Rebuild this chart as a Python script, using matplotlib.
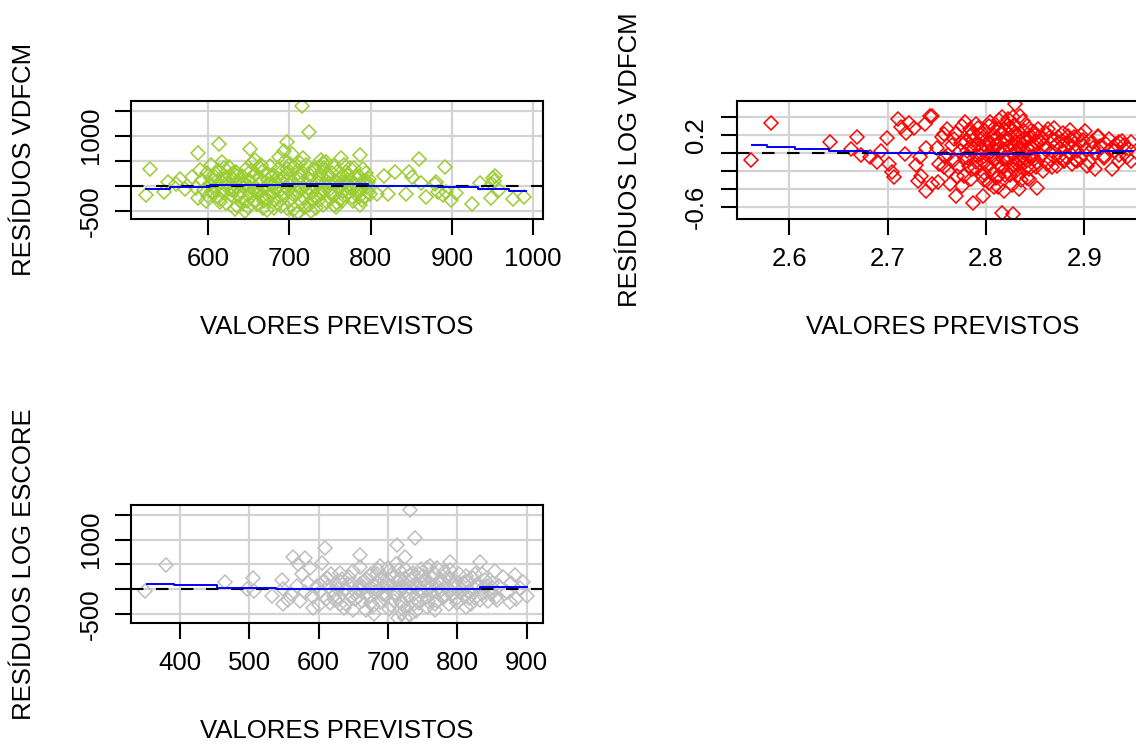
import matplotlib
matplotlib.use("Agg")
import matplotlib.pyplot as plt

plt.rcParams['font.family'] = ['Liberation Sans', 'DejaVu Sans']

# --- VDFCM: valores previstos x resíduos ---
vdfcm_x = [528.8, 524, 550.6, 565.6, 588, 613.9, 715, 724.3, 696.5, 651.5, 580, 588,
           786.5, 764, 816, 829.4, 808, 821, 846.6, 850.7, 860, 843.8, 868, 880.6,
           890.8, 882.6, 893, 899, 889, 924.3, 948, 950, 952, 949, 953, 989, 879, 862,
           796.5, 572, 560, 545, 905, 935, 958, 975,
           592, 595, 598, 600, 602, 604, 606, 608, 610, 612, 614, 616, 618, 620, 622,
           624, 626, 628, 630, 632, 634, 636, 638, 640, 642, 644, 646, 648, 650, 652,
           654, 656, 658, 660, 662, 664, 666, 668, 670, 672, 674, 676, 678, 680, 682,
           684, 686, 688, 690, 692, 694, 696, 698, 700, 702, 704, 706, 708, 710, 712,
           714, 716, 718, 720, 722, 724, 726, 728, 730, 732, 734, 736, 738, 740, 742,
           744, 746, 748, 750, 752, 754, 756, 758, 760, 762, 764, 766, 768, 770, 772,
           774, 776, 778, 780, 782, 784, 786, 788, 790, 792, 794, 796, 798,
           585, 590, 597, 603, 611, 617, 623, 629, 635, 641, 647, 653, 659, 665, 671,
           677, 683, 689, 695, 701, 707, 713, 719, 725, 731, 737, 743, 749, 755, 761,
           767, 773, 779, 785, 791, 797, 657, 667, 687, 705, 717, 727, 739, 703, 693,
           745, 633, 645, 709, 733, 757,
           615, 619, 625, 631, 637, 643, 649, 655, 661, 663, 669, 673, 679, 681, 685,
           691, 697, 699, 711, 715, 721, 723, 729, 735, 741, 747, 751, 753, 759, 763,
           769, 771, 777, 781, 787, 793, 799, 627, 639, 651, 663, 675, 689, 699, 711,
           723, 735, 747, 759, 771, 783, 795, 605, 609, 621, 645, 657, 685, 697, 713,
           729, 741, 765, 775, 789]
vdfcm_y = [334, -186, 80, 134, 648, 828, 1600, 1080, 880, 728, 180, -252,
           614, 548, 194, 280, -172, -172, 280, 180, 534, -172, -220, 80,
           380, -120, -120, -286, -186, -366, -252, 148, 90, 40, 200, -220, 40, 48,
           80, -60, 30, -120, -150, 60, -90, -260,
           120, -80, 260, -210, 40, 420, -150, 180, -30, 310, -260, 90, -120, 220, -340,
           10, 380, -190, 140, -60, 270, -410, 60, -240, 190, -20, 340, -300, 110, -150,
           450, -70, 230, -360, 30, 160, -220, 290, -40, -480, 120, 400, -130, 210, -280,
           50, 330, -90, -400, 170, 500, -20, 250, -310, 80, -170, 380, 10, -520, 140,
           -60, 270, -240, 420, 30, -380, 190, -110, 310, -20, 90, -280, 230, -150, 360,
           40, -330, 150, -70, 260, -210, 100, -30, 300, -260, 180, -100, 50, -180, 230,
           -50, 120, -300, 360, 20, -140, 200, -60, 90, -230, 250, -20, 130,
           -40, 310, -300, 150, -200, 480, 60, -80, 200, -350, 20, 300, -120, 420, -250,
           60, -20, 280, -150, 440, -60, 200, -420, 100, -200, 380, -90, 60, -380, 140,
           420, -120, 40, -220, 330, -120, 520, -450, 580, -470, 560, -500, 520, 640, 700,
           480, -460, -500, -560, -440, -420,
           -320, 350, -60, 260, -180, 80, -420, 180, -90, 380, -300, 240, -10, -440, 150,
           -240, 340, -80, 250, -330, -130, 160, -260, 60, -380, 220, -120, 390, -350, 40,
           270, -10, -220, 180, -380, 70, -160, 200, -110, -30, -150, -200, 100, 20, -150,
           -40, -160, -10, 80, 110, -80, 40, -100, 80, 130, 10, -280, -350, -440, 460,
           330, 460, -300, 350, -280]

# --- LOG VDFCM ---
logv_x = [2.561, 2.581, 2.641, 2.669, 2.663, 2.673, 2.682, 2.689, 2.693, 2.699, 2.701,
          2.704, 2.706, 2.711, 2.714, 2.719, 2.722, 2.727, 2.738, 2.743, 2.718, 2.729,
          2.731, 2.734, 2.739, 2.745, 2.733, 2.739,
          2.8296, 2.816, 2.828, 2.835, 2.816, 2.779, 2.757, 2.745, 2.797, 2.787, 2.770,
          2.852, 2.808, 2.844, 2.751, 2.763, 2.785, 2.901, 2.914, 2.935, 2.947, 2.935,
          2.928, 2.911, 2.893, 2.879, 2.869, 2.886, 2.899, 2.920, 2.932,
          2.750, 2.752, 2.755, 2.758, 2.760, 2.762, 2.765, 2.767, 2.770, 2.772, 2.774,
          2.776, 2.778, 2.780, 2.782, 2.784, 2.786, 2.788, 2.790, 2.792, 2.794, 2.796,
          2.798, 2.800, 2.802, 2.804, 2.806, 2.808, 2.810, 2.812, 2.814, 2.816, 2.818,
          2.820, 2.822, 2.824, 2.826, 2.828, 2.830, 2.832, 2.834, 2.836, 2.838, 2.840,
          2.842, 2.844, 2.846, 2.848, 2.850, 2.852, 2.855, 2.858, 2.860, 2.863, 2.866,
          2.869, 2.872, 2.875, 2.878, 2.881, 2.884, 2.887, 2.890, 2.893, 2.896, 2.899,
          2.902, 2.905, 2.908, 2.912, 2.916, 2.920, 2.925, 2.930, 2.935, 2.940, 2.945,
          2.948,
          2.781, 2.783, 2.787, 2.791, 2.793, 2.797, 2.799, 2.801, 2.803, 2.805, 2.807,
          2.809, 2.811, 2.813, 2.815, 2.817, 2.819, 2.821, 2.823, 2.825, 2.827, 2.829,
          2.831, 2.833, 2.835, 2.837, 2.839, 2.841, 2.843, 2.845, 2.847, 2.849, 2.851,
          2.853, 2.856, 2.859, 2.862, 2.865, 2.868, 2.871, 2.874, 2.877, 2.880, 2.883,
          2.886, 2.889, 2.795, 2.803, 2.812, 2.818, 2.826, 2.834, 2.842, 2.808, 2.820,
          2.828, 2.838, 2.846, 2.790, 2.798, 2.776, 2.784,
          2.779, 2.785, 2.789, 2.795, 2.801, 2.805, 2.809, 2.811, 2.815, 2.817, 2.819,
          2.823, 2.825, 2.827, 2.829, 2.831, 2.833, 2.835, 2.837, 2.839, 2.841, 2.843,
          2.845, 2.849, 2.851, 2.857, 2.861, 2.867, 2.873, 2.879, 2.885, 2.891, 2.897,
          2.903, 2.909, 2.914, 2.922, 2.928, 2.938, 2.943, 2.761, 2.767, 2.771, 2.775,
          2.757, 2.803, 2.813, 2.823, 2.833, 2.813, 2.797, 2.787, 2.807, 2.821]
logv_y = [-0.074, 0.336, 0.118, 0.173, 0.044, -0.022, -0.041, -0.097, 0.018, 0.166, -0.122,
          -0.215, -0.27, 0.377, 0.29, 0.22, 0.33, 0.28, 0.32, 0.414, -0.011, -0.13,
          -0.307, -0.25, -0.418, -0.34, -0.05, 0.06,
          0.544, -0.659, -0.677, 0.414, 0.40, 0.34, 0.21, 0.414, -0.474, -0.548, -0.474,
          -0.382, -0.38, -0.29, -0.32, -0.34, -0.29, 0.248, 0.173, 0.118, -0.085, -0.09,
          -0.18, -0.18, -0.09, -0.09, 0.28, 0.14, 0.09, -0.03, 0.10,
          0.05, -0.12, 0.18, -0.04, 0.26, -0.20, 0.09, -0.08, 0.22, -0.15, 0.02,
          0.30, -0.26, 0.12, -0.06, 0.19, -0.18, 0.06, -0.10, 0.28, -0.02, 0.15,
          -0.22, 0.08, -0.14, 0.34, -0.05, 0.20, -0.28, 0.03, 0.13, -0.16, 0.25,
          -0.08, 0.38, -0.24, 0.10, -0.01, 0.22, -0.12, 0.05, -0.30, 0.16, -0.06,
          0.30, -0.18, 0.08, -0.03, 0.20, -0.10, 0.12, -0.20, 0.04, 0.26, -0.08,
          0.14, -0.14, 0.06, 0.22, -0.04, 0.10, -0.12, 0.18, 0.02, -0.06, 0.14,
          0.04, -0.10, 0.12, 0.0, 0.08, -0.06, 0.15, 0.02, -0.02, 0.09, 0.04,
          0.12,
          0.02, -0.14, 0.14, -0.03, 0.10, -0.09, 0.24, -0.02, 0.11, -0.19, 0.06,
          0.16, -0.11, 0.27, 0.00, -0.07, 0.14, -0.21, 0.07, 0.18, -0.13, 0.31,
          0.02, -0.09, 0.13, -0.04, 0.24, 0.01, -0.14, 0.17, 0.06, -0.07, 0.12,
          0.27, -0.02, 0.09, -0.12, 0.18, 0.01, 0.09, -0.05, 0.13, 0.05, 0.19,
          -0.01, 0.07, 0.04, -0.33, -0.38, -0.42, -0.35, -0.40, -0.28, 0.28, 0.33,
          0.40, 0.35, 0.24, 0.32, -0.30, -0.36, 0.27,
          -0.06, 0.08, -0.17, 0.20, 0.15, 0.01, -0.06, 0.08, 0.22, 0.04, -0.24,
          -0.04, 0.02, 0.25, -0.18, 0.12, 0.20, -0.16, 0.09, -0.11, 0.15, 0.04,
          -0.05, 0.23, -0.16, 0.16, 0.22, -0.16, 0.18, -0.09, 0.25, -0.08, 0.20,
          -0.14, 0.05, 0.19, 0.10, 0.06, 0.13, -0.04, -0.02, 0.15, -0.26, 0.11,
          -0.15, 0.30, 0.36, 0.28, -0.24, -0.26, -0.26, 0.22, -0.22, 0.16]

# --- LOG ESCORE ---
loge_x = [349.5, 379.8, 465, 496, 504.9, 507, 532, 546.7, 549, 556, 563.5, 570.7, 580.4,
          587.6, 575.5, 609, 604.6, 597.4, 590, 568.4, 573, 592.4, 611.7, 616.5,
          731.9, 739.1, 712.7, 659.7, 630.9, 725, 789.6, 832.9, 854.5, 883.4, 900.3,
          876, 857, 838, 815, 825, 768, 724.7, 715, 755.7,
          602, 606, 610, 614, 618, 622, 626, 630, 634, 638, 642, 646, 650, 654, 658,
          662, 666, 670, 674, 678, 682, 686, 690, 694, 698, 702, 706, 710, 714, 718,
          722, 726, 730, 734, 738, 742, 746, 750, 754, 758, 762, 766, 770, 774, 778,
          782, 786, 790, 794, 798, 802, 806, 810, 814, 818, 822, 826, 830, 835, 840,
          845, 850, 855, 860, 866, 872, 878, 884, 890, 895,
          612, 620, 628, 636, 644, 652, 660, 668, 676, 684, 692, 700, 708, 716, 724,
          732, 740, 748, 756, 764, 772, 780, 788, 796, 804, 812, 820, 828, 836, 844,
          852, 700, 712, 688, 720, 740, 760, 680, 732, 748, 770, 790, 650, 640, 624,
          600, 560, 548, 580, 585, 660,
          664, 668, 672, 676, 680, 684, 688, 692, 696, 704, 708, 712, 716, 720, 724,
          728, 732, 736, 740, 744, 748, 752, 756, 760, 764, 768, 772, 776, 780, 784,
          788, 792, 796, 800, 808, 816, 824, 832, 656, 648, 640, 632, 686, 716, 744,
          726, 704, 676, 758, 812, 842, 848]
loge_y = [-40, 492, 146, 6, 226, -30, -140, 192, 0, -208, 660, 500, 626,
          436, 306, 826, 526, 60, -140, 60, -240, -374, 226, -274,
          1592, 1040, 892, 692, 326, 660, 560, 560, 360, 292, -140,
          -260, -220, 40, -60, 300, -408, -574, -574, 426,
          -60, 150, -200, 40, 300, -130, 80, -290, 200, -20, 110, -160, 360, -60, 20,
          -240, 170, -90, 260, -330, 60, -30, 210, -180, 100, -400, 300, -70, 140, -250,
          40, 380, -120, 190, -300, 70, -20, 260, -160, 120, -60, 330, -240, 30, 160,
          -110, 240, -40, 100, -200, 300, 0, -130, 150, -60, 220, -180, 60, -90, 190,
          -20, 120, -160, 60, 240, -60, 120, -200, 30, 150,
          220, -40, 10, -380, 240, -200, 100, -420, 40, 300, -90, 180, -230, 30, -40,
          280, -180, 120, -360, 60, -80, 340, -300, 170, -60, 260, -300, 100, 300, -240,
          20, 420, 520, 460, -480, -440, 460, -500, -520, 400, 420, 380, -420, -300, -220,
          -320, -100, -300, -60, 120, 450,
          40, 200, -150, 300, -60, 120, -260, 60, -120, 40, 250, -100, 200, -300, 120,
          -200, 20, 330, 60, -280, -60, 170, 10, -100, 220, -300, 150, -20, -160, 60,
          200, -120, 20, -280, 120, -180, 30, -220, -150, 100, 0, 150, 380, 380, 300,
          -380, -320, -280, -240, -360, 60, -100]

# linhas azuis (média por faixa)
vdfcm_step_x = [524, 552.5, 602.5, 690.4, 796.7, 882.6, 931.7, 970.6, 991]
vdfcm_step_y = [-72, -32, 5, 34, 2, -32, -72, -112]
logv_step_x = [2.5617, 2.577, 2.606, 2.640, 2.680, 2.748, 2.847, 2.916, 2.95]
logv_step_y = [0.092, 0.07, 0.044, 0.018, 0.0, -0.012, 0.003, 0.018]
loge_step_x = [352, 391.8, 453.8, 538, 833, 900]
loge_step_y = [112, 80, 26, 0, 42]

W, H = 1136, 745
FS = 18.5


def px_axes(fig, left, top, right, bottom):
    return fig.add_axes([left / W, 1 - bottom / H, (right - left) / W, (bottom - top) / H])


def residual_panel(ax, x, y, color, sx, sy, xlim, ylim, xticks, yticks, ylabels, ylab):
    ax.set_xlim(*xlim)
    ax.set_ylim(*ylim)
    ax.set_xticks(xticks)
    ax.set_yticks(yticks)
    ax.set_yticklabels(ylabels, rotation=90, va='center')
    ax.grid(True, color='#D3D3D3', lw=1.6, zorder=0)
    ax.set_axisbelow(True)
    ax.plot(x, y, ls='none', marker='D', ms=7, mfc='none', mec=color, mew=1.1, zorder=2)
    ax.axhline(0, color='black', lw=1.5, ls=(0, (6, 6)), zorder=3)
    ax.step(sx, list(sy) + [sy[-1]], where='post', color='blue', lw=1.4, zorder=4)
    for s in ax.spines.values():
        s.set_linewidth(1.5)
    ax.tick_params(length=11.5, width=1.5, pad=9, labelsize=FS, colors='black')
    ax.set_xlabel('VALORES PREVISTOS', fontsize=FS)
    ax.set_ylabel(ylab, fontsize=FS)
    h = ax.get_position().height * H
    w = ax.get_position().width * W
    ax.xaxis.set_label_coords(0.5, -108 / h)
    ax.xaxis.label.set_va('center')
    ax.yaxis.set_label_coords(-107 / w, 0.5)
    ax.yaxis.label.set_va('center')


fig = plt.figure(figsize=(W / 100, H / 100), dpi=100)

ax1 = px_axes(fig, 131, 100.7, 543, 219)
residual_panel(ax1, vdfcm_x, vdfcm_y, '#9ACD32', vdfcm_step_x, vdfcm_step_y,
               (505, 1012), (-666, 1700), [600, 700, 800, 900, 1000],
               [-500, 0, 500, 1000, 1500], ['-500', '', '', '1000', ''],
               'RESÍDUOS VDFCM')

ax2 = px_axes(fig, 736.7, 100.7, 1148.7, 219)
residual_panel(ax2, logv_x, logv_y, 'red', logv_step_x, logv_step_y,
               (2.5465, 2.9655), (-0.73, 0.578), [2.6, 2.7, 2.8, 2.9],
               [-0.6, -0.4, -0.2, 0.0, 0.2, 0.4], ['-0.6', '', '', '', '0.2', ''],
               'RESÍDUOS LOG VDFCM')

ax3 = px_axes(fig, 131, 505, 542.7, 622.7)
residual_panel(ax3, loge_x, loge_y, '#BEBEBE', loge_step_x, loge_step_y,
               (329.3, 923), (-674, 1700), [400, 500, 600, 700, 800, 900],
               [-500, 0, 500, 1000, 1500], ['-500', '', '', '1000', ''],
               'RESÍDUOS LOG ESCORE')

fig.savefig('out.png', dpi=100)
